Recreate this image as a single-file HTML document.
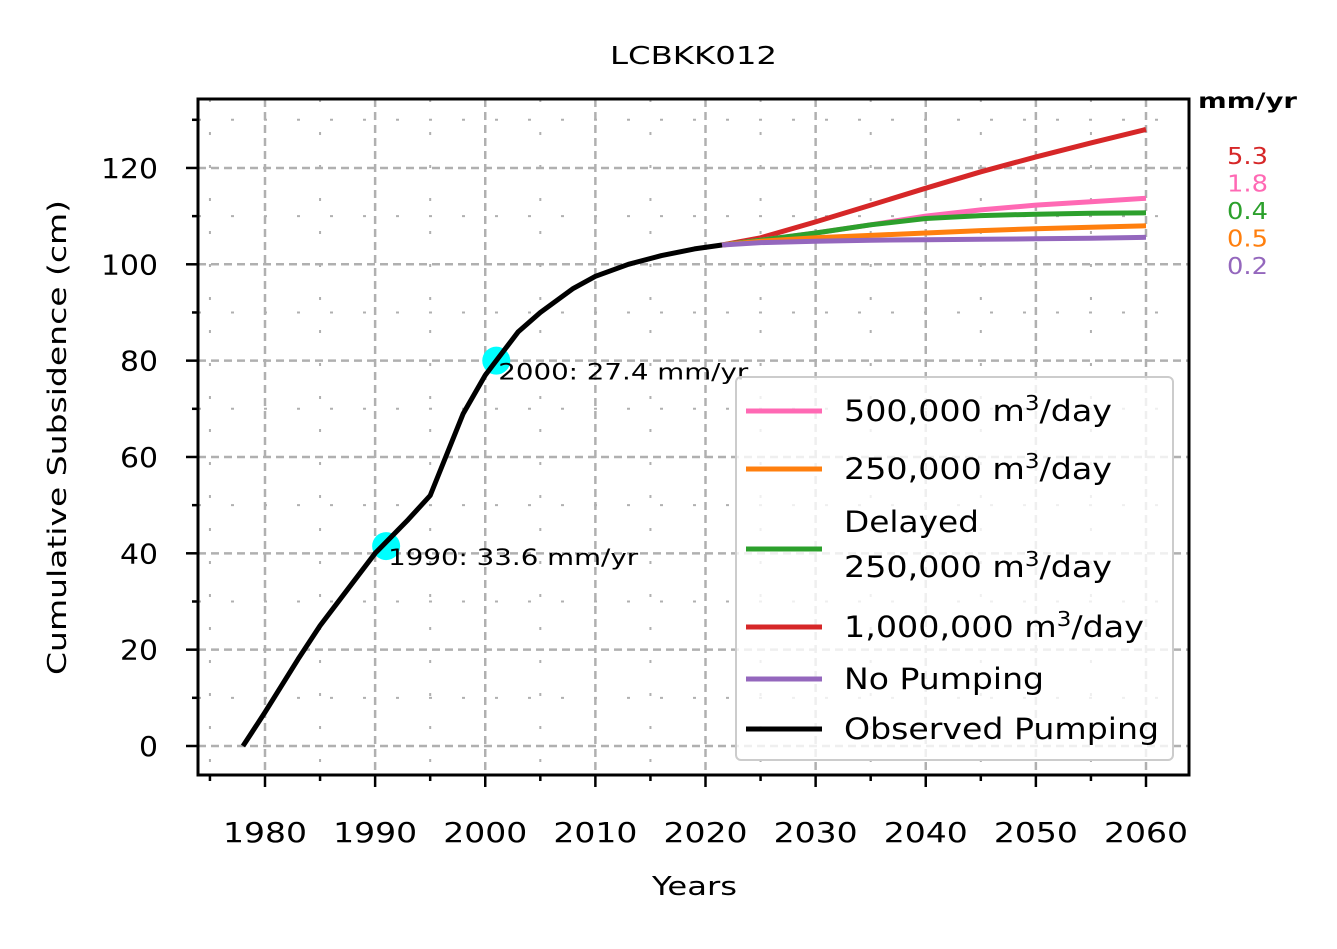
<!DOCTYPE html>
<html><head><meta charset="utf-8"><style>
body{margin:0;background:#fff;}
svg text{font-family:"DejaVu Sans","Liberation Sans",sans-serif;}
</style></head><body>
<svg id="chart" width="1337" height="944" xmlns="http://www.w3.org/2000/svg">
<g id="grid"></g>
<g id="series"></g>
<g id="axes"></g>
<text x="610" y="64" font-size="25" textLength="167" lengthAdjust="spacingAndGlyphs">LCBKK012</text>
<text x="652" y="895" font-size="26" textLength="85" lengthAdjust="spacingAndGlyphs">Years</text>
<text transform="translate(66,675) rotate(-90)" font-size="26" textLength="475" lengthAdjust="spacingAndGlyphs">Cumulative Subsidence (cm)</text>
<text x="1198" y="108" font-size="21" font-weight="bold" textLength="99" lengthAdjust="spacingAndGlyphs">mm/yr</text>
<g id="rates"></g>
<g>
<rect x="736" y="377" width="437" height="383" rx="5" fill="#fff" fill-opacity="0.8" stroke="#ccc" stroke-width="2"/>
<g id="legend-items"></g>
</g>
</svg>
<script>
const years=[1978,1980,1983,1985,1988,1990,1993,1995,1998,2000,2003,2005,2008,2010,2013,2016,2019,2021.5];
const observed=[0,7,18,25,34,40,47,52,69,77,86,90,95,97.5,100,101.8,103.2,104];
const projYears=[2021.5,2025,2030,2035,2040,2045,2050,2055,2060];
const pump1M=[104,105.5,108.8,112.3,115.8,119.2,122.3,125.2,128];
const pump500k=[104,105,106.5,108.2,110,111.3,112.3,113,113.7];
const delayed250k=[104,105,106.5,108.2,109.5,110.1,110.4,110.6,110.7];
const pump250k=[104,104.8,105.5,106,106.5,107,107.4,107.7,108];
const noPump=[104,104.5,104.8,105,105.1,105.2,105.3,105.4,105.6];
const xTicks=[1980,1990,2000,2010,2020,2030,2040,2050,2060];
const yTicks=[0,20,40,60,80,100,120];
const markerYears=[1991,2001];
const markerValues=[41.5,80];
const markerLabels=["1990: 33.6 mm/yr","2000: 27.4 mm/yr"];
const rateValues=["5.3","1.8","0.4","0.5","0.2"];
const rateColors=["#d62728","#ff69b4","#2ca02c","#ff7f0e","#9467bd"];

const L=198,R=1189,T=99,B=775;
const X=v=>265+(v-1980)*11.0125;
const Y=v=>746-v*4.817;
const NS="http://www.w3.org/2000/svg";
function mk(parent,tag,attrs){const e=document.createElementNS(NS,tag);for(const k in attrs)e.setAttribute(k,attrs[k]);document.getElementById(parent).appendChild(e);return e;}

for(let y=1975;y<=2060;y+=5){const major=y%10===0;
 const g=mk('grid','line',{x1:X(y),x2:X(y),y1:T,y2:B,stroke:'#b0b0b0','stroke-width':major?2.5:2,'stroke-dasharray':major?'8,5':'3,30'});
 
 
 const t=mk('axes','line',{x1:X(y),x2:X(y),y1:B,y2:B+(major?12:6),stroke:'#000','stroke-width':2.5});
 
 }
for(let v=0;v<=130;v+=10){const major=v%20===0;
 const g=mk('grid','line',{x1:L,x2:R,y1:Y(v),y2:Y(v),stroke:'#b0b0b0','stroke-width':major?2.5:2,'stroke-dasharray':major?'8,5':'3,30'});
 
 
 const t=mk('axes','line',{x1:L,x2:L-(major?12:6),y1:Y(v),y2:Y(v),stroke:'#000','stroke-width':2.5});
 
 }
xTicks.forEach(v=>{const t=mk('axes','text',{x:X(v),y:842,'font-size':28,'text-anchor':'middle',textLength:84,lengthAdjust:'spacingAndGlyphs'});t.textContent=v;
 
 });
yTicks.forEach(v=>{const w=String(v).length*19;const t=mk('axes','text',{x:158-w,y:Y(v)+10,'font-size':28,textLength:w,lengthAdjust:'spacingAndGlyphs'});t.textContent=v;
 
 });
const frame=mk('axes','rect',{x:L,y:T,width:R-L,height:B-T,fill:'none',stroke:'#000','stroke-width':3});



function line(xs,ys,color,name){const d=xs.map((x,i)=>(i?'L':'M')+X(x).toFixed(1)+','+Y(ys[i]).toFixed(1)).join('');
 const p=mk('series','path',{d:d,fill:'none',stroke:color,'stroke-width':5,'stroke-linejoin':'round'});
 
 }
line(projYears,pump1M,'#d62728','line-1000000');
line(projYears,pump500k,'#ff69b4','line-500000');
line(projYears,delayed250k,'#2ca02c','line-delayed-250000');
line(projYears,pump250k,'#ff7f0e','line-250000');
line(projYears,noPump,'#9467bd','line-no-pumping');
markerYears.forEach((yr,i)=>{
 const c=mk('series','circle',{cx:X(yr),cy:Y(markerValues[i]),r:14,fill:'#00ffff'});
 
 });
line(years,observed,'#000','line-observed');
markerYears.forEach((yr,i)=>{
 const t=mk('series','text',{x:X(yr)+2,y:Y(markerValues[i])+19,'font-size':22,textLength:250,lengthAdjust:'spacingAndGlyphs'});t.textContent=markerLabels[i];
 
 });
rateValues.forEach((r,i)=>{const t=mk('rates','text',{x:1227,y:164+i*27.5,'font-size':23,fill:rateColors[i],textLength:41,lengthAdjust:'spacingAndGlyphs'});t.textContent=r;
 
 });

// legend
const leg=[["#ff69b4",411,[["500,000 m","3","/day"]],268],["#ff7f0e",469,[["250,000 m","3","/day"]],268],["#2ca02c",549,[["Delayed"],["250,000 m","3","/day"]],268],["#d62728",627,[["1,000,000 m","3","/day"]],300],["#9467bd",679,[["No Pumping"]],200],["#000",729,[["Observed Pumping"]],315]];
leg.forEach(([c,y,lines,w])=>{
 const l=mk('legend-items','line',{x1:746,x2:822,y1:y,y2:y,stroke:c,'stroke-width':5});
 
 
 lines.forEach((parts,j)=>{const ty=lines.length>1?y-17+j*45:y+10;
  const tw=parts.length===1&&lines.length>1?135:w;
  const t=mk('legend-items','text',{x:844,y:ty,'font-size':29,textLength:tw,lengthAdjust:'spacingAndGlyphs'});
  
  
  if(parts.length===1){t.textContent=parts[0];}
  else{
   const a=document.createElementNS(NS,'tspan');a.textContent=parts[0];t.appendChild(a);
   const b=document.createElementNS(NS,'tspan');b.textContent=parts[1];b.setAttribute('dy','-11');b.setAttribute('font-size','20');t.appendChild(b);
   const d=document.createElementNS(NS,'tspan');d.textContent=parts[2];d.setAttribute('dy','11');t.appendChild(d);
  }
 });
});
</script>
</body></html>
